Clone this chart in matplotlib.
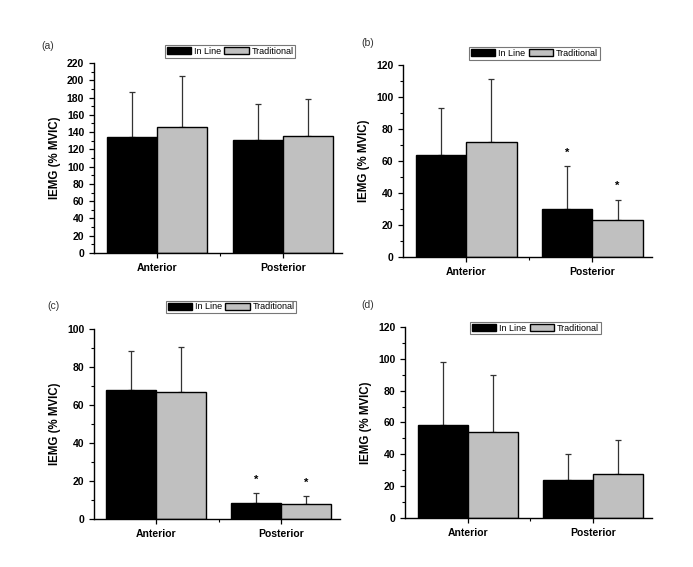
import matplotlib
matplotlib.use('Agg')
import matplotlib.pyplot as plt
import numpy as np
from matplotlib.patches import Patch
from matplotlib.ticker import MultipleLocator, FixedLocator

plt.rcParams['font.family'] = ['Liberation Sans', 'DejaVu Sans']

categories = ['Anterior', 'Posterior']
series_names = ['In Line', 'Traditional']

# panel values: means and upper SD for In Line / Traditional
a_inline = [134, 131]
a_inline_sd = [53, 41]
a_trad = [146, 135]
a_trad_sd = [59, 43]

b_inline = [63.9, 30.3]
b_inline_sd = [29.4, 26.7]
b_trad = [71.8, 23.0]
b_trad_sd = [39.2, 12.9]

c_inline = [67.7, 8.4]
c_inline_sd = [20.7, 5.1]
c_trad = [66.8, 7.9]
c_trad_sd = [23.9, 4.2]

d_inline = [58.2, 24.1]
d_inline_sd = [40.0, 15.9]
d_trad = [53.8, 27.7]
d_trad_sd = [36.0, 21.3]

# which bars carry a significance star
b_stars_inline = [False, True]
b_stars_trad = [False, True]
c_stars_inline = [False, True]
c_stars_trad = [False, True]

fig = plt.figure(figsize=(6.93, 5.67), dpi=100)

panels = [
    ('(a)', [0.1356, 0.5538, 0.358, 0.335], 220, a_inline, a_inline_sd, a_trad, a_trad_sd,
     None, None, (0.3319, 0.9092), (0.059, 0.919)),
    ('(b)', [0.5815, 0.5467, 0.359, 0.3386], 120, b_inline, b_inline_sd, b_trad, b_trad_sd,
     b_stars_inline, b_stars_trad, (0.7713, 0.9056), (0.521, 0.924)),
    ('(c)', [0.1356, 0.0847, 0.355, 0.335], 100, c_inline, c_inline_sd, c_trad, c_trad_sd,
     c_stars_inline, c_stars_trad, (0.3333, 0.4586), (0.068, 0.460)),
    ('(d)', [0.5844, 0.0864, 0.356, 0.337], 120, d_inline, d_inline_sd, d_trad, d_trad_sd,
     None, None, (0.7727, 0.4215), (0.521, 0.462)),
]

x = np.arange(len(categories))
w = 0.4

for (tag, rect, ymax, inl, inl_sd, trd, trd_sd, st_i, st_t, leg_pos, tag_pos) in panels:
    ax = fig.add_axes(rect)
    ax.bar(x - w / 2, inl, w, color='black', edgecolor='black', linewidth=1, zorder=2)
    ax.bar(x + w / 2, trd, w, color='#c0c0c0', edgecolor='black', linewidth=1, zorder=2)
    ax.errorbar(x - w / 2, inl, yerr=[np.zeros(2), inl_sd], fmt='none', ecolor='#333333',
                elinewidth=0.9, capsize=2, capthick=0.9, zorder=1)
    ax.errorbar(x + w / 2, trd, yerr=[np.zeros(2), trd_sd], fmt='none', ecolor='#333333',
                elinewidth=0.9, capsize=2, capthick=0.9, zorder=1)

    if st_i is not None:
        for i in range(len(categories)):
            if st_i[i]:
                ax.annotate('*', (x[i] - w / 2, inl[i] + inl_sd[i]), xytext=(0, 6),
                            textcoords='offset points', ha='center', va='bottom',
                            fontsize=8, fontweight='bold')
            if st_t[i]:
                ax.annotate('*', (x[i] + w / 2, trd[i] + trd_sd[i]), xytext=(0, 6),
                            textcoords='offset points', ha='center', va='bottom',
                            fontsize=8, fontweight='bold')

    ax.set_xlim(-0.5, 1.47)
    ax.set_ylim(0, ymax)
    ax.yaxis.set_major_locator(MultipleLocator(20))
    ax.yaxis.set_minor_locator(MultipleLocator(10))
    ax.set_xticks(x)
    ax.set_xticklabels(categories, fontweight='bold', fontsize=7.5)
    ax.xaxis.set_minor_locator(FixedLocator([0.5]))
    for lab in ax.get_yticklabels():
        lab.set_fontweight('bold')
        lab.set_fontsize(7.5)
    ax.tick_params(axis='both', which='major', direction='out', length=3.5, width=0.9)
    ax.tick_params(axis='both', which='minor', direction='out', length=2, width=0.8)
    ax.spines['top'].set_visible(False)
    ax.spines['right'].set_visible(False)
    ax.spines['left'].set_linewidth(1)
    ax.spines['bottom'].set_linewidth(1)
    ax.set_ylabel('IEMG (% MVIC)', fontweight='bold', fontsize=8.3, labelpad=4)

    handles = [Patch(facecolor='black', edgecolor='black', label=series_names[0]),
               Patch(facecolor='#c0c0c0', edgecolor='black', label=series_names[1])]
    leg = fig.legend(handles=handles, loc='center', bbox_to_anchor=leg_pos, ncol=2,
                     fontsize=6.5, frameon=True, fancybox=False, handlelength=2.7,
                     handleheight=0.8, handletextpad=0.3, columnspacing=0.4,
                     borderpad=0.2, borderaxespad=0)
    leg.get_frame().set_edgecolor('#555555')
    leg.get_frame().set_linewidth(0.8)

    fig.text(tag_pos[0], tag_pos[1], tag, fontsize=7.5, color='#333333', va='center')

fig.savefig('out.png', dpi=100)
